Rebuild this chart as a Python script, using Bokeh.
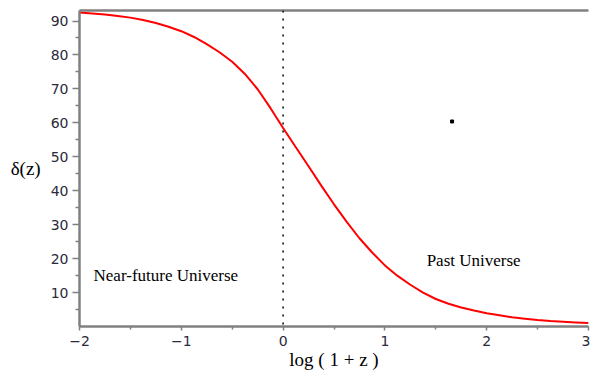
from bokeh.plotting import figure
from bokeh.models import Range1d, FixedTicker, LinearAxis, Label, Span
from bokeh.embed import file_html
from bokeh.resources import INLINE

# data
x_vals = [-2.0, -1.875, -1.75, -1.625, -1.5, -1.375, -1.25, -1.125, -1.0, -0.875,
          -0.75, -0.625, -0.5, -0.375, -0.25, -0.125, 0.0, 0.125, 0.25, 0.375,
          0.5, 0.625, 0.75, 0.875, 1.0, 1.125, 1.25, 1.375, 1.5, 1.625,
          1.75, 1.875, 2.0, 2.125, 2.25, 2.375, 2.5, 2.625, 2.75, 2.875, 3.0]
delta_vals = [92.5, 92.2, 91.9, 91.5, 91.0, 90.3, 89.4, 88.3, 87.0, 85.3,
              83.2, 80.8, 78.0, 74.4, 69.9, 64.4, 58.5, 52.8, 47.2, 41.5,
              36.0, 30.8, 26.0, 21.8, 18.0, 14.9, 12.3, 10.0, 8.1, 6.7,
              5.6, 4.7, 3.9, 3.3, 2.7, 2.3, 1.9, 1.6, 1.4, 1.2, 1.0]
x_ticks = [-2, -1, 0, 1, 2, 3]
x_minor = [-1.5, -0.5, 0.5, 1.5, 2.5]
x_tick_labels = {-2: "\u22122", -1: "\u22121", 0: "0", 1: "1", 2: "2", 3: "3"}
y_ticks = [10, 20, 30, 40, 50, 60, 70, 80, 90]
y_minor = [5, 15, 25, 35, 45, 55, 65, 75, 85]
dot_x = [1.66]
dot_y = [60.4]
label_near = "Near-future Universe"
label_past = "Past Universe"
x_title = "log ( 1 + z )"
y_title = "\u03b4(z)"

p = figure(width=590, height=374, output_backend="svg", toolbar_location=None,
           x_range=Range1d(-2, 3), y_range=Range1d(0, 93.1),
           min_border_left=79, min_border_right=2, min_border_top=10, min_border_bottom=48,
           x_axis_location=None, y_axis_location=None)
p.grid.visible = False
p.outline_line_color = None
p.background_fill_color = "white"
p.border_fill_color = "white"

axis_col = "#808080"
lab_col = "#2a2a3a"
serif = "Liberation Serif"

xa = LinearAxis(ticker=FixedTicker(ticks=x_ticks, minor_ticks=x_minor))
xa.major_label_overrides = x_tick_labels
xa.axis_line_color = axis_col
xa.axis_line_width = 2.5
xa.major_tick_line_color = axis_col
xa.minor_tick_line_color = axis_col
xa.major_tick_line_width = 1.5
xa.minor_tick_line_width = 1.5
xa.major_tick_out = 4
xa.major_tick_in = 0
xa.minor_tick_out = 3
xa.minor_tick_in = 0
xa.major_label_standoff = 5
xa.major_label_text_font = "DejaVu Sans"
xa.major_label_text_font_size = "14px"
xa.major_label_text_color = lab_col
xa.axis_label = x_title
xa.axis_label_text_font = serif
xa.axis_label_text_font_size = "19px"
xa.axis_label_text_font_style = "normal"
xa.axis_label_text_color = "black"
xa.axis_label_standoff = 0
p.add_layout(xa, "below")

ya = LinearAxis(ticker=FixedTicker(ticks=y_ticks, minor_ticks=y_minor))
ya.axis_line_color = axis_col
ya.axis_line_width = 2.5
ya.major_tick_line_color = axis_col
ya.minor_tick_line_color = axis_col
ya.major_tick_line_width = 1.5
ya.minor_tick_line_width = 1.5
ya.major_tick_out = 7
ya.major_tick_in = 0
ya.minor_tick_out = 4
ya.minor_tick_in = 0
ya.major_label_standoff = 4
ya.major_label_text_font = "DejaVu Sans"
ya.major_label_text_font_size = "14px"
ya.major_label_text_color = lab_col
ya.axis_label = y_title
ya.axis_label_text_font = serif
ya.axis_label_text_font_size = "19px"
ya.axis_label_text_font_style = "normal"
ya.axis_label_text_color = "black"
ya.axis_label_standoff = 7
try:
    ya.axis_label_orientation = "horizontal"
except Exception:
    pass
p.add_layout(ya, "left")

ta = LinearAxis(ticker=FixedTicker(ticks=[]))
ta.axis_line_color = axis_col
ta.axis_line_width = 2.5
ta.major_label_text_font_size = "0px"
ta.major_tick_line_color = None
ta.minor_tick_line_color = None
p.add_layout(ta, "above")

p.add_layout(Span(location=0, dimension="height", line_color="black",
                  line_width=1.5, line_dash="2 6"))

p.line(x_vals, delta_vals, line_color="#ff0000", line_width=2)
p.scatter(dot_x, dot_y, marker="square", size=3, color="black")

p.add_layout(Label(x=-1.862, y=15.0, text=label_near, text_font=serif,
                   text_font_size="17px", text_baseline="middle", text_color="black"))
p.add_layout(Label(x=1.41, y=19.4, text=label_past, text_font=serif,
                   text_font_size="17px", text_baseline="middle", text_color="black"))

open("out.html", "w").write(file_html(p, INLINE))
